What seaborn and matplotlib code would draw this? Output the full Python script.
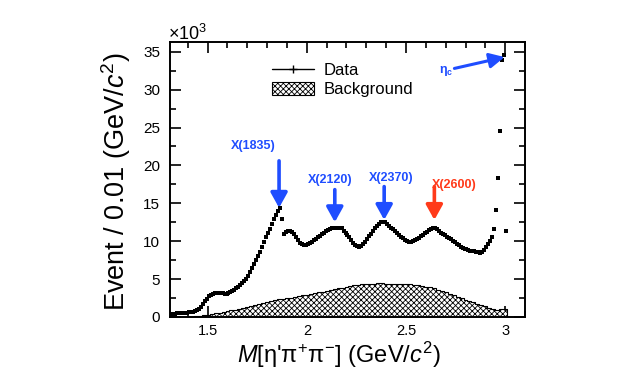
import numpy as np
import pandas as pd
import matplotlib
matplotlib.use("Agg")
import matplotlib.pyplot as plt
import seaborn as sns
from matplotlib.lines import Line2D
from matplotlib.patches import Patch
from matplotlib.ticker import MultipleLocator

# --------------------------------------------
# DATA (events per 0.01 GeV/c^2, in units of 10^3)
# --------------------------------------------

# bin centres of the 0.01 GeV/c^2 data histogram, 1.315 ... 3.005
bin_width = 0.01
mass = np.round(1.315 + bin_width * np.arange(170), 3)

events = [
    0.35, 0.40, 0.40, 0.45, 0.45, 0.50, 0.50, 0.50, 0.55, 0.60,   # 1.315-1.405
    0.60, 0.65, 0.75, 0.90, 1.10, 1.35, 1.70, 2.05, 2.40, 2.70,   # 1.415-1.505
    2.90, 3.00, 3.10, 3.15, 3.15, 3.15, 3.10, 3.00, 3.05, 3.20,   # 1.515-1.605
    3.30, 3.45, 3.60, 3.75, 3.95, 4.20, 4.45, 4.75, 5.05, 5.45,   # 1.615-1.705
    5.90, 6.40, 6.95, 7.45, 8.00, 8.60, 9.25, 9.90, 10.5, 11.1,   # 1.715-1.805
    11.65, 12.2, 12.9, 13.5, 14.0, 14.4, 12.9, 11.0, 11.2, 11.3,  # 1.815-1.905
    11.4, 11.2, 10.9, 10.5, 10.1, 9.80, 9.60, 9.50, 9.50, 9.60,   # 1.915-2.005
    9.75, 9.90, 10.1, 10.3, 10.5, 10.7, 10.9, 11.1, 11.35, 11.5,  # 2.015-2.105
    11.65, 11.75, 11.8, 11.8, 11.8, 11.8, 11.7, 11.4, 11.1, 10.8, # 2.115-2.205
    10.5, 10.15, 9.80, 9.50, 9.30, 9.25, 9.40, 9.65, 9.95, 10.3,  # 2.215-2.305
    10.7, 11.0, 11.35, 11.7, 12.0, 12.3, 12.5, 12.55, 12.5, 12.2, # 2.315-2.405
    11.95, 11.75, 11.55, 11.3, 11.1, 10.85, 10.6, 10.4, 10.2, 10.05,  # 2.415-2.505
    9.95, 9.95, 10.0, 10.1, 10.25, 10.45, 10.65, 10.85, 11.05, 11.25, # 2.515-2.605
    11.45, 11.65, 11.75, 11.75, 11.6, 11.35, 11.1, 10.9, 10.75, 10.6, # 2.615-2.705
    10.4, 10.25, 10.05, 9.85, 9.65, 9.45, 9.25, 9.10, 9.00, 8.95,     # 2.715-2.805
    8.85, 8.75, 8.70, 8.65, 8.60, 8.55, 8.50, 8.60, 8.85, 9.20,       # 2.815-2.905
    9.60, 10.0, 10.6, 11.6, 14.1, 18.4, 24.5, 33.9, 34.6, 11.4,       # 2.915-3.005
]

# background histogram, 0.02 GeV/c^2 bins from 1.41 to 3.01
bg_width = 0.02
bg_range = (1.41, 3.01)
bg_centres = np.round(1.42 + bg_width * np.arange(80), 3)
background = [
    0.05, 0.10, 0.15, 0.20, 0.30, 0.40, 0.50, 0.55, 0.65, 0.75,   # 1.42-1.60
    0.85, 0.95, 1.05, 1.20, 1.35, 1.45, 1.60, 1.75, 1.85, 1.95,   # 1.62-1.80
    2.05, 2.20, 2.30, 2.40, 2.50, 2.55, 2.65, 2.75, 2.85, 2.95,   # 1.82-2.00
    3.05, 3.15, 3.25, 3.35, 3.45, 3.55, 3.65, 3.75, 3.85, 3.95,   # 2.02-2.20
    4.05, 4.15, 4.25, 4.30, 4.35, 4.40, 4.40, 4.45, 4.45, 4.40,   # 2.22-2.40
    4.40, 4.40, 4.35, 4.35, 4.30, 4.30, 4.25, 4.20, 4.10, 4.00,   # 2.42-2.60
    3.90, 3.75, 3.60, 3.45, 3.25, 3.05, 2.85, 2.65, 2.45, 2.25,   # 2.62-2.80
    2.10, 1.95, 1.75, 1.55, 1.40, 1.20, 1.00, 0.95, 1.00, 1.05,   # 2.82-3.00
]

# resonance labels
res_names = ["X(1835)", "X(2120)", "X(2370)", "X(2600)"]
res_mass = [1.860, 2.141, 2.390, 2.643]
res_arrow_top = [20.6, 16.8, 17.2, 17.2]
res_arrow_tip = [14.4, 12.5, 12.8, 12.8]
res_label_x = [1.732, 2.116, 2.424, 2.741]
res_label_y = [22.5, 18.1, 18.4, 17.4]
res_colors = ["#1f4dff", "#1f4dff", "#1f4dff", "#ff3a1a"]

df_data = pd.DataFrame({"mass": mass, "events": events})
df_bg = pd.DataFrame({"mass": bg_centres, "events": background})

# --------------------------------------------
# STYLE
# --------------------------------------------

sns.set_style("ticks")
plt.rcParams["font.family"] = ["Liberation Sans", "DejaVu Sans"]
plt.rcParams["mathtext.fontset"] = "custom"
plt.rcParams["mathtext.rm"] = "Liberation Sans"
plt.rcParams["mathtext.it"] = "Liberation Sans:italic"
plt.rcParams["mathtext.bf"] = "Liberation Sans:bold"
plt.rcParams["hatch.linewidth"] = 0.6
for key in ["text.color", "axes.labelcolor", "axes.edgecolor",
            "xtick.color", "ytick.color"]:
    plt.rcParams[key] = "black"

fig = plt.figure(figsize=(6.39, 3.86), dpi=100)
ax = fig.add_axes([0.266, 0.179, 0.5556, 0.7124])

# --------------------------------------------
# PLOT
# --------------------------------------------

sns.histplot(data=df_bg, x="mass", weights="events", binwidth=bg_width,
             binrange=bg_range, element="step", fill=True, facecolor="white",
             edgecolor="black", hatch="xxxxxx", linewidth=0.8,
             ax=ax, legend=False)

sns.scatterplot(data=df_data, x="mass", y="events", marker="s", s=7,
                color="black", linewidth=0, ax=ax, legend=False, zorder=3)

ax.set_xlim(1.31, 3.1)
ax.set_ylim(0, 36.3)

ax.xaxis.set_major_locator(MultipleLocator(0.5))
ax.xaxis.set_minor_locator(MultipleLocator(0.1))
ax.yaxis.set_major_locator(MultipleLocator(5))
ax.yaxis.set_minor_locator(MultipleLocator(2.5))
ax.xaxis.set_major_formatter(plt.FuncFormatter(lambda v, p: f"{v:g}"))
ax.yaxis.set_major_formatter(plt.FuncFormatter(lambda v, p: f"{v:g}"))

ax.tick_params(which="both", direction="in", top=True, right=True, width=1.2)
ax.tick_params(which="major", length=8)
ax.tick_params(which="minor", length=4.5)
ax.tick_params(axis="x", labelsize=10.5, pad=5)
ax.tick_params(axis="y", labelsize=11, pad=7)
for sp in ax.spines.values():
    sp.set_linewidth(1.4)

ax.set_xlabel(r"$M$[η'π$^{+}$π$^{-}$] (GeV/$c^{2}$)", fontsize=17)
ax.set_ylabel(r"Event / 0.01 (GeV/$c^{2}$)", fontsize=19.5)
ax.xaxis.label.set_va("center")
ax.yaxis.label.set_va("center")
ax.xaxis.set_label_coords(0.476, -0.138)
ax.yaxis.set_label_coords(-0.152, 0.49)

fig.text(168 / 639, 1 - 40 / 386, r"$\times$10$^{3}$", fontsize=13,
         va="baseline", ha="left")

# resonance arrows
for name, xm, y0, y1, lx, ly, col in zip(res_names, res_mass, res_arrow_top,
                                         res_arrow_tip, res_label_x,
                                         res_label_y, res_colors):
    ax.annotate("", xy=(xm, y1), xytext=(xm, y0),
                arrowprops=dict(arrowstyle="-|>,head_length=0.9,head_width=0.5",
                                lw=2.6, color=col, mutation_scale=10,
                                shrinkA=0, shrinkB=0))
    ax.text(lx, ly, name, color=col, fontsize=9, fontweight="bold",
            ha="center", va="center")

# eta_c arrow
ax.annotate("", xy=(2.997, 34.3), xytext=(2.744, 32.8),
            arrowprops=dict(arrowstyle="-|>,head_length=0.9,head_width=0.45",
                            lw=2.2, color="#1f4dff", mutation_scale=10,
                            shrinkA=0, shrinkB=0))
ax.text(2.702, 32.5, r"η$_{\mathregular{c}}$", color="#1f4dff", fontsize=9,
        fontweight="bold", ha="center", va="center")

# legend
handles = [Line2D([], [], color="black", lw=1.0, marker="+", markersize=6,
                  markeredgewidth=1.0),
           Patch(facecolor="white", edgecolor="black", hatch="xxxxxx", lw=0.8)]
ax.legend(handles, ["Data", "Background"], loc="upper left",
          bbox_to_anchor=(0.27, 0.95), frameon=False, fontsize=12,
          handlelength=2.5, handleheight=0.85, handletextpad=0.55,
          labelspacing=0.25, borderaxespad=0)

fig.savefig("out.png", dpi=100)
